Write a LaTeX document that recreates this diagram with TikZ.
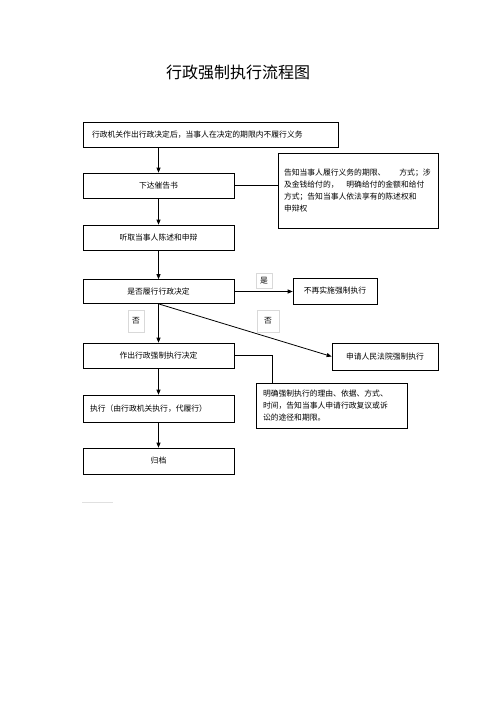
\documentclass[tikz,border=0pt]{standalone}
\usepackage{fontspec}
\setmainfont{Noto Sans CJK SC}
\usetikzlibrary{arrows.meta,shadows}
\begin{document}
\begin{tikzpicture}[x=1pt,y=-1pt,
  box/.style={draw=black, line width=0.7pt, fill=white, rectangle, inner sep=0pt,
    font=\fontsize{7.8}{12}\selectfont,
    drop shadow={shadow xshift=0.9pt, shadow yshift=-0.9pt, opacity=1, fill=black}},
  lab/.style={draw=black!15, line width=0.5pt, fill=white, inner sep=0pt,
    font=\fontsize{7.8}{10}\selectfont},
  arr/.style={line width=0.8pt, -{Triangle[length=5pt,width=4pt]}},
  ln/.style={line width=0.8pt}]
\useasboundingbox (0,0) rectangle (500,708);
\fill[white] (0,0) rectangle (500,708);

\node[font=\fontsize{16}{16}\selectfont] (title) at (238,72) {行政强制执行流程图};

\node[box, minimum width=255pt, minimum height=25pt, text width=237pt, inner xsep=9pt, align=left]
  (b1) at (210.5,134.5) {行政机关作出行政决定后，当事人在决定的期限内不履行义务};
\node[box, minimum width=151pt, minimum height=25pt] (b2) at (158.5,185.5) {下达催告书};
\node[box, minimum width=151pt, minimum height=25pt] (b3) at (158.5,237.5) {听取当事人陈述和申辩};
\node[box, minimum width=151pt, minimum height=24pt] (d) at (158.5,291.5) {是否履行行政决定};
\node[box, minimum width=151pt, minimum height=25pt] (zc) at (158.5,355.5) {作出行政强制执行决定};
\node[box, minimum width=151pt, minimum height=27pt, text width=137pt, inner xsep=7pt, align=left]
  (ex) at (158.5,408.5) {执行（由行政机关执行，代履行）};
\node[box, minimum width=151pt, minimum height=26pt] (gd) at (158.5,461) {归档};

\node[box, minimum width=160pt, minimum height=75pt, text width=148pt, inner xsep=6pt, align=left]
  (s1) at (358,190.5) {告知当事人履行义务的期限、\hspace{1.8em}方式；涉\\及金钱给付的，\hspace{1em}明确给付的金额和给付\\方式；告知当事人依法享有的陈述权和\\申辩权};
\node[box, minimum width=84pt, minimum height=26pt] (no) at (335,291) {不再实施强制执行};
\node[box, minimum width=106pt, minimum height=27pt] (app) at (385,356.5) {申请人民法院强制执行};
\node[box, minimum width=151pt, minimum height=45pt, text width=137pt, inner xsep=7pt, align=left]
  (s2) at (331.5,405.5) {明确强制执行的理由、依据、方式、\\时间，告知当事人申请行政复议或诉\\讼的途径和期限。};

\node[lab, minimum width=16pt, minimum height=15pt] (yes) at (264,280.5) {是};
\node[lab, minimum width=16pt, minimum height=22pt] (fou1) at (136,321) {否};
\node[lab, minimum width=22pt, minimum height=22pt] (fou2) at (268,321) {否};

\draw[arr] (b1.south -| b2.north) -- (b2.north);
\draw[arr] (b2) -- (b3);
\draw[arr] (b3) -- (d);
\draw[arr] (d) -- (zc);
\draw[arr] (zc) -- (ex);
\draw[arr] (ex) -- (gd);
\draw[ln] (b2.east) -- (b2.east -| s1.west);
\draw[arr] (d.east) -- (d.east -| no.west);
\draw[arr] (d.south) -- (app.west);
\coordinate (k) at (272,383);
\draw[ln] (zc.east) -| (k);

\coordinate (m1) at (82,502);
\coordinate (m2) at (113,502);
\draw[black!12, line width=0.6pt] (m1) -- (m2);
\end{tikzpicture}
\end{document}
